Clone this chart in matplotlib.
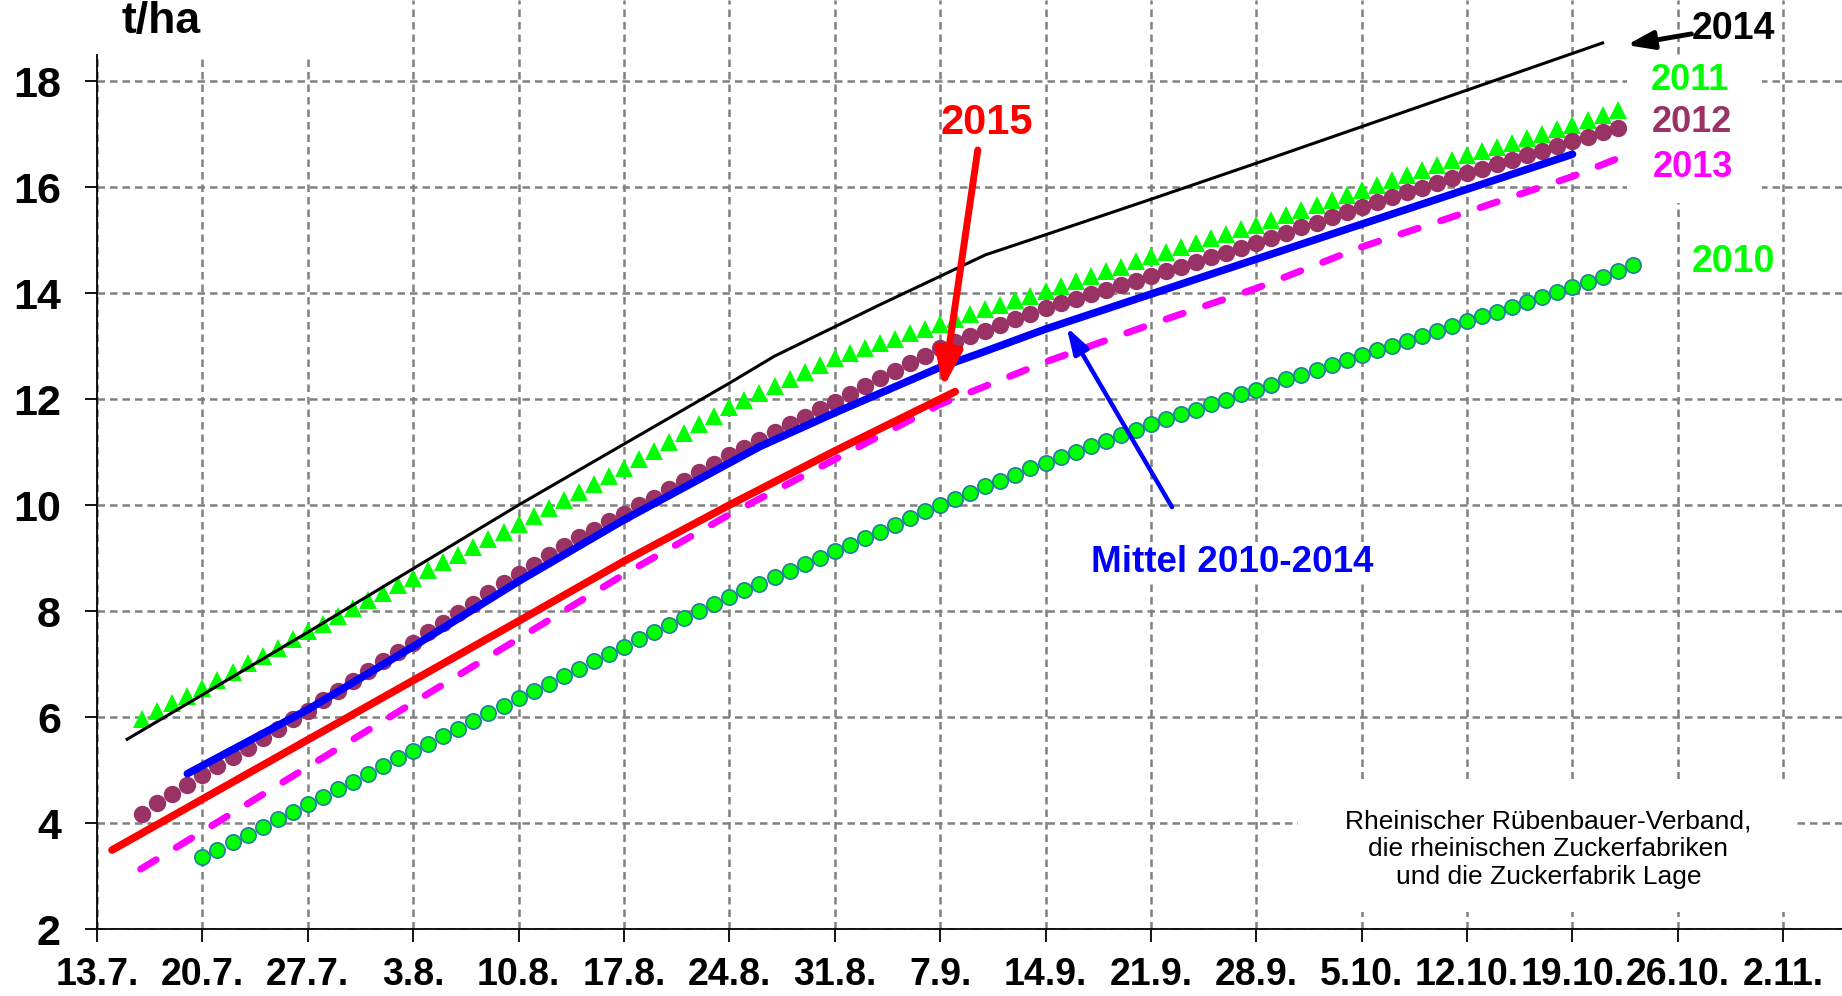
import matplotlib
matplotlib.use("Agg")
import matplotlib.pyplot as plt
from matplotlib.patches import Rectangle
import numpy as np

plt.rcParams['font.family'] = ['Liberation Sans', 'DejaVu Sans']

# ---------------- data ----------------
# x = days after 13.7.
tick_labels = ['13.7.', '20.7.', '27.7.', '3.8.', '10.8.', '17.8.', '24.8.', '31.8.',
               '7.9.', '14.9.', '21.9.', '28.9.', '5.10.', '12.10.', '19.10.', '26.10.', '2.11.']
tick_days = [0, 7, 14, 21, 28, 35, 42, 49, 56, 63, 70, 77, 84, 91, 98, 105, 112]
y_ticks = [2, 4, 6, 8, 10, 12, 14, 16, 18]

# 2010 daily values, starting on day 7 (20.7.)
start_2010 = 7
y2010 = [3.35, 3.49, 3.64, 3.78, 3.92, 4.07, 4.21, 4.35,
         4.50, 4.64, 4.78, 4.93, 5.07, 5.22, 5.36,
         5.50, 5.64, 5.78, 5.92, 6.07, 6.21, 6.35,
         6.49, 6.63, 6.77, 6.91, 7.05, 7.19, 7.33,
         7.47, 7.60, 7.74, 7.87, 8.01, 8.14, 8.27,
         8.39, 8.51, 8.64, 8.76, 8.88, 9.01, 9.13,
         9.25, 9.38, 9.50, 9.63, 9.75, 9.88, 10.00,
         10.12, 10.23, 10.35, 10.46, 10.57, 10.69, 10.80,
         10.90, 11.01, 11.11, 11.21, 11.32, 11.42, 11.52,
         11.62, 11.71, 11.80, 11.90, 11.99, 12.09, 12.18,
         12.27, 12.37, 12.46, 12.55, 12.65, 12.74, 12.83,
         12.92, 13.01, 13.10, 13.19, 13.28, 13.38, 13.47,
         13.56, 13.65, 13.74, 13.83, 13.93, 14.02, 14.11,
         14.21, 14.31, 14.42, 14.53]

# 2011 daily values, starting on day 3
start_2011 = 3
y2011 = [5.96, 6.11, 6.26, 6.40, 6.55,
         6.70, 6.85, 7.01, 7.16, 7.31, 7.47, 7.62,
         7.76, 7.91, 8.05, 8.20, 8.34, 8.49, 8.63,
         8.77, 8.92, 9.06, 9.21, 9.35, 9.50, 9.64,
         9.79, 9.94, 10.09, 10.24, 10.40, 10.55, 10.70,
         10.86, 11.02, 11.19, 11.35, 11.52, 11.68, 11.85,
         11.99, 12.12, 12.25, 12.38, 12.51, 12.64, 12.77,
         12.86, 12.96, 13.05, 13.14, 13.24, 13.33, 13.42,
         13.51, 13.60, 13.69, 13.78, 13.86, 13.95, 14.04,
         14.13, 14.23, 14.32, 14.41, 14.50, 14.60, 14.69,
         14.77, 14.86, 14.94, 15.03, 15.11, 15.20, 15.28,
         15.37, 15.47, 15.56, 15.66, 15.75, 15.85, 15.94,
         16.03, 16.13, 16.22, 16.32, 16.41, 16.51, 16.60,
         16.68, 16.76, 16.84, 16.93, 17.01, 17.09, 17.17,
         17.26, 17.36, 17.45]

# 2012 daily values, starting on day 3
start_2012 = 3
y2012 = [4.17, 4.37, 4.55, 4.71, 4.90,
         5.07, 5.25, 5.42, 5.60, 5.78, 5.96, 6.12,
         6.32, 6.50, 6.68, 6.87, 7.05, 7.22, 7.40,
         7.60, 7.78, 7.96, 8.14, 8.34, 8.52, 8.70,
         8.87, 9.05, 9.22, 9.39, 9.53, 9.70, 9.84,
         10.00, 10.14, 10.30, 10.46, 10.62, 10.78, 10.94,
         11.08, 11.23, 11.37, 11.52, 11.66, 11.81, 11.95,
         12.10, 12.24, 12.39, 12.53, 12.68, 12.82, 12.97,
         13.08, 13.19, 13.29, 13.40, 13.51, 13.61, 13.72,
         13.81, 13.89, 13.98, 14.06, 14.15, 14.23, 14.32,
         14.41, 14.50, 14.59, 14.68, 14.76, 14.85, 14.94,
         15.04, 15.14, 15.24, 15.33, 15.43, 15.53, 15.63,
         15.72, 15.81, 15.90, 15.99, 16.08, 16.17, 16.26,
         16.35, 16.43, 16.52, 16.60, 16.69, 16.77, 16.86,
         16.94, 17.03, 17.11]

# 2013 (dashed line)
x2013 = [2.9, 7, 14, 21, 28, 35, 42, 49, 56, 63, 70, 77, 84, 91, 98, 101]
y2013 = [3.13, 3.84, 5.06, 6.27, 7.48, 8.69, 9.82, 10.86, 11.9, 12.7, 13.41, 14.09, 14.87, 15.53, 16.2, 16.54]

# 2014 (thin black line)
x2014 = [2, 7, 14, 21, 28, 35, 42, 45, 52, 59, 63, 70, 77, 84, 91, 100]
y2014 = [5.58, 6.42, 7.6, 8.8, 10.0, 11.15, 12.3, 12.81, 13.78, 14.72, 15.1, 15.77, 16.45, 17.14, 17.83, 18.72]

# Mittel 2010-2014
x_mittel = [6, 14, 21, 28, 35, 44, 49, 56, 58.5, 63, 70, 77, 84, 91, 98]
y_mittel = [4.93, 6.14, 7.33, 8.56, 9.72, 11.1, 11.74, 12.6, 12.85, 13.32, 13.98, 14.64, 15.3, 15.96, 16.62]

# 2015
x2015 = [1, 7, 14, 21, 28, 35, 42, 49, 56, 57]
y2015 = [3.49, 4.45, 5.57, 6.69, 7.81, 8.94, 10.0, 11.02, 12.0, 12.14]

# ---------------- figure ----------------
W, H = 1842, 996
fig = plt.figure(figsize=(W / 100, H / 100), dpi=100)
ax = fig.add_axes([97 / W, 1 - 929 / H, 1 - 97 / W, 929 / H])
ax.set_xlim(0, 115.9)
ax.set_ylim(2, 19.53)

x2010 = start_2010 + np.arange(len(y2010))
x2011 = start_2011 + np.arange(len(y2011))
x2012 = start_2012 + np.arange(len(y2012))

ax.plot(x2010, y2010, ls='none', marker='o', ms=11, mfc='#00FF00', mec='#1F7F99', mew=1.2, zorder=2.0)
ax.plot(x2011, y2011, ls='none', marker='^', ms=13, color='#00FF00', mew=0, zorder=2.1)
ax.plot(x2012, y2012, ls='none', marker='o', ms=12.5, color='#993366', mew=0, zorder=2.2)
ax.plot(x2013, y2013, color='#FF00FF', lw=5, dashes=(2.6, 3.4), dash_capstyle='round', zorder=2.3)
ax.plot(x2014, y2014, color='black', lw=2.2, zorder=2.4)
ax.plot(x_mittel, y_mittel, color='#0000FF', lw=5.5, solid_capstyle='round', zorder=2.5)
ax.plot(x2015, y2015, color='#FF0000', lw=5.5, solid_capstyle='round', zorder=2.6)

# axes styling
ax.set_xticks(tick_days)
ax.set_xticklabels(tick_labels)
ax.set_yticks(y_ticks)
ax.set_yticklabels([str(v) for v in y_ticks])
ax.tick_params(axis='both', direction='out', length=9, width=1.3, color='black')
ax.tick_params(axis='x', labelsize=27, pad=11)
ax.tick_params(axis='y', labelsize=31, pad=17)
for lab in ax.get_xticklabels() + ax.get_yticklabels():
    lab.set_fontweight('bold')

for s in ['top', 'right']:
    ax.spines[s].set_visible(False)
for s in ['left', 'bottom']:
    ax.spines[s].set_color('black')
    ax.spines[s].set_linewidth(1.3)
ax.spines['left'].set_bounds(2, 18.49)

ax.set_axisbelow(True)
ax.grid(True, color='#808080', lw=1.8, linestyle=(0, (3, 2)))

# white areas hiding the grid behind the labels
ax.add_patch(Rectangle((-7, 18.49), 24.5, 2, facecolor='white', edgecolor='none', zorder=1.5))
ax.add_patch(Rectangle((79.8, 2.32), 33, 2.51, facecolor='white', edgecolor='none', zorder=1.5))
ax.add_patch(Rectangle((101.6, 15.7), 9.0, 2.8, facecolor='white', edgecolor='none', zorder=1.5))

fig.text(161 / W, 1 - 22 / H, 't/ha', fontsize=32, fontweight='bold', ha='center', va='center')

box = dict(facecolor='white', edgecolor='none', pad=3)
ax.text(108.7, 18.98, '2014', color='black', fontsize=27, fontweight='bold', ha='center', va='center', bbox=box, zorder=5)
ax.text(105.8, 18.02, '2011', color='#00FF00', fontsize=26, fontweight='bold', ha='center', va='center', bbox=box, zorder=5)
ax.text(105.9, 17.21, '2012', color='#993366', fontsize=26, fontweight='bold', ha='center', va='center', bbox=box, zorder=5)
ax.text(106.0, 16.36, '2013', color='#FF00FF', fontsize=26, fontweight='bold', ha='center', va='center', bbox=box, zorder=5)
ax.text(108.7, 14.58, '2010', color='#00FF00', fontsize=27, fontweight='bold', ha='center', va='center', bbox=box, zorder=5)
ax.text(59.1, 17.21, '2015', color='#FF0000', fontsize=30, fontweight='bold', ha='center', va='center', zorder=5)
ax.text(75.4, 8.92, 'Mittel 2010-2014', color='#0000FF', fontsize=26.5, fontweight='bold', ha='center', va='center',
        bbox=dict(facecolor='white', edgecolor='none', pad=1), zorder=5)

ax.text(96.4, 3.51, 'Rheinischer Rübenbauer-Verband,\ndie rheinischen Zuckerfabriken\nund die Zuckerfabrik Lage',
        fontsize=19, ha='center', va='center', linespacing=1.2, zorder=5)

# arrows
ax.annotate('', xy=(101.6, 18.68), xytext=(105.9, 18.89),
            arrowprops=dict(arrowstyle='-|>,head_length=1.6,head_width=0.55', color='black', lw=3.5,
                            shrinkA=0, shrinkB=0, mutation_scale=10), zorder=6)
ax.annotate('', xy=(56.2, 12.21), xytext=(58.5, 16.7),
            arrowprops=dict(arrowstyle='-|>,head_length=2.2,head_width=0.8', color='#FF0000', lw=5,
                            shrinkA=0, shrinkB=0, mutation_scale=10), zorder=6)
ax.annotate('', xy=(64.4, 13.36), xytext=(71.4, 9.96),
            arrowprops=dict(arrowstyle='-|>,head_length=1.6,head_width=0.5', color='#0000FF', lw=3.2,
                            shrinkA=0, shrinkB=0, mutation_scale=10), zorder=6)

fig.savefig('out.png', dpi=100)
